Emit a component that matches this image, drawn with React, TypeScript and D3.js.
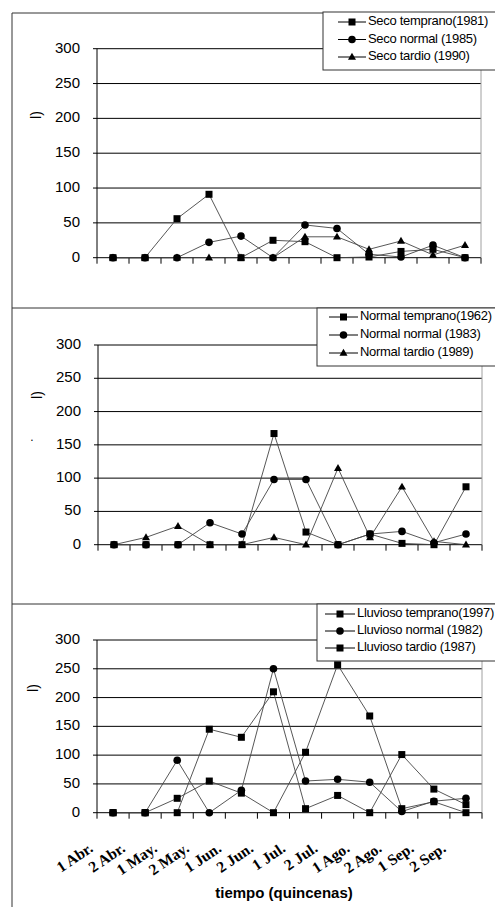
import * as d3 from "d3";

const categories = ["1 Abr.", "2 Abr.", "1 May.", "2 May.", "1 Jun.", "2 Jun.", "1 Jul.", "2 Jul.", "1 Ago.", "2 Ago.", "1 Sep.", "2 Sep."];
const yTicks = [0, 50, 100, 150, 200, 250, 300];

// seco
const secoTemprano = [0, 0, 56, 91, 0, 25, 23, 0, 1, 9, 12, 0];
const secoNormal = [0, 0, 0, 22, 31, 0, 47, 42, 5, 1, 18, 0];
const secoTardio = [0, 0, 0, 0, 0, 0, 30, 30, 12, 24, 4, 18];
// normal
const normalTemprano = [0, 0, 0, 0, 0, 167, 19, 0, 16, 2, 0, 87];
const normalNormal = [0, 0, 0, 33, 16, 98, 98, 0, 16, 20, 3, 16];
const normalTardio = [0, 11, 28, 0, 0, 11, 0, 115, 11, 87, 5, 0];
// lluvioso
const lluviosoTemprano = [0, 0, 0, 145, 131, 210, 7, 30, 0, 101, 41, 14];
const lluviosoNormal = [0, 0, 91, 0, 39, 250, 55, 58, 53, 2, 20, 25];
const lluviosoTardio = [0, 0, 25, 55, 34, 0, 105, 257, 168, 7, 19, 0];

type Marker = "square" | "circle" | "triangle";
type Series = { name: string; values: number[]; marker: Marker };

const panels = [
  {
    series: [
      { name: "Seco temprano(1981)", values: secoTemprano, marker: "square" },
      { name: "Seco normal (1985)", values: secoNormal, marker: "circle" },
      { name: "Seco tardio (1990)", values: secoTardio, marker: "triangle" },
    ] as Series[],
    frameTop: 13, left: 97, right: 481, top: 48.7, bottom: 257.7,
    legend: { x: 323, y: 12, h: 58, rows: [22, 39.5, 57], x1: 338, x2: 366, tx: 368 },
    glyph: [37, 115], dot: null as null | number[], labels: false,
  },
  {
    series: [
      { name: "Normal temprano(1962)", values: normalTemprano, marker: "square" },
      { name: "Normal normal (1983)", values: normalNormal, marker: "circle" },
      { name: "Normal tardio (1989)", values: normalTardio, marker: "triangle" },
    ] as Series[],
    frameTop: 308, left: 98, right: 482, top: 345, bottom: 544.7,
    legend: { x: 317, y: 308, h: 58, rows: [317, 335, 353], x1: 329, x2: 358, tx: 360 },
    glyph: [38, 395], dot: [32, 441], labels: false,
  },
  {
    series: [
      { name: "Lluvioso temprano(1997)", values: lluviosoTemprano, marker: "square" },
      { name: "Lluvioso normal (1982)", values: lluviosoNormal, marker: "circle" },
      { name: "Lluvioso tardio (1987)", values: lluviosoTardio, marker: "square" },
    ] as Series[],
    frameTop: 604, left: 97, right: 482, top: 640, bottom: 812.7,
    legend: { x: 317, y: 604, h: 57, rows: [614, 631, 648], x1: 325, x2: 355, tx: 357 },
    glyph: [34, 688], dot: null, labels: true,
  },
];

const FONT = "Arial, 'Liberation Sans', sans-serif";
const triPath = d3.symbol(d3.symbolTriangle, 28)() as string;

function MarkerShape({ kind, x, y }: { kind: Marker; x: number; y: number }) {
  if (kind === "square") return <rect x={x - 3.5} y={y - 3.5} width={7} height={7} fill="#000" />;
  if (kind === "circle") return <circle cx={x} cy={y} r={3.8} fill="#000" />;
  return <path d={triPath} transform={`translate(${x},${y + 0.5})`} fill="#000" />;
}

function Panel({ p }: { p: (typeof panels)[number] }) {
  const x = d3.scaleBand<string>().domain(categories).range([p.left, p.right]);
  const y = d3.scaleLinear().domain([0, 300]).range([p.bottom, p.top]);
  const cx = (c: string) => (x(c) as number) + x.bandwidth() / 2;
  const line = d3.line<number>().x((_, i) => cx(categories[i])).y((d) => y(d));
  const boundaries = categories.map((c) => x(c) as number).concat([p.right]);

  return (
    <g>
      {/* grid */}
      {yTicks.map((t) => (
        <g key={t}>
          <line x1={p.left} x2={p.right} y1={y(t)} y2={y(t)} stroke="#000" strokeWidth={1} />
          <line x1={p.left - 4} x2={p.left} y1={y(t)} y2={y(t)} stroke="#000" />
          <text x={p.left - 17} y={y(t)} textAnchor="end" dominantBaseline="middle" fontSize={15} fontFamily={FONT} fill="#000">
            {t}
          </text>
        </g>
      ))}
      <line x1={p.right} x2={p.right} y1={p.top} y2={p.bottom} stroke="#a0a0a0" />
      <line x1={p.left} x2={p.left} y1={p.top} y2={p.bottom} stroke="#000" />
      {boundaries.map((b, i) => (
        <line key={i} x1={b} x2={b} y1={p.bottom} y2={p.bottom + 6} stroke="#000" />
      ))}

      {/* series */}
      {p.series.map((s) => (
        <path key={s.name} d={line(s.values) as string} fill="none" stroke="#444" strokeWidth={0.9} />
      ))}
      {p.series.map((s) =>
        s.values.map((v, i) => <MarkerShape key={s.name + i} kind={s.marker} x={cx(categories[i])} y={y(v)} />)
      )}

      {/* y title fragment */}
      <text transform={`translate(${p.glyph[0]},${p.glyph[1]}) rotate(-90)`} textAnchor="middle" dominantBaseline="middle" fontSize={14} fontFamily={FONT}>
        l)
      </text>
      {p.dot && (
        <text x={p.dot[0]} y={p.dot[1]} fontSize={12} fontFamily={FONT} textAnchor="middle">.</text>
      )}

      {/* legend */}
      <rect x={p.legend.x} y={p.legend.y} width={200} height={p.legend.h} fill="#fff" stroke="#333" />
      {p.series.map((s, i) => (
        <g key={s.name}>
          <line x1={p.legend.x1} x2={p.legend.x2} y1={p.legend.rows[i]} y2={p.legend.rows[i]} stroke="#000" />
          <MarkerShape kind={s.marker} x={(p.legend.x1 + p.legend.x2) / 2} y={p.legend.rows[i]} />
          <text x={p.legend.tx} y={p.legend.rows[i]} dominantBaseline="middle" fontSize={13} fontFamily={FONT} letterSpacing={-0.3}>
            {s.name}
          </text>
        </g>
      ))}

      {/* x labels */}
      {p.labels &&
        categories.map((c) => (
          <text key={c} transform={`translate(${cx(c) - 19},${p.bottom + 38}) rotate(-34)`} textAnchor="end" fontSize={15.5}
            fontWeight="bold" fontFamily="'Times New Roman', 'Liberation Serif', serif">
            {c}
          </text>
        ))}
      {p.labels && (
        <text x={284} y={898} textAnchor="middle" fontSize={15} fontWeight="bold" fontFamily={FONT}>
          tiempo (quincenas)
        </text>
      )}
    </g>
  );
}

export default function App() {
  return (
    <svg width={495} height={907} style={{ position: "absolute", left: 0, top: 0, background: "#fff" }}>
      <rect width={495} height={907} fill="#fff" />
      {/* panel frames */}
      <line x1={12} x2={12} y1={13} y2={907} stroke="#333" />
      {panels.map((p) => (
        <line key={p.frameTop} x1={12} x2={495} y1={p.frameTop} y2={p.frameTop} stroke="#333" />
      ))}
      {panels.map((p, i) => (
        <Panel key={i} p={p} />
      ))}
    </svg>
  );
}
